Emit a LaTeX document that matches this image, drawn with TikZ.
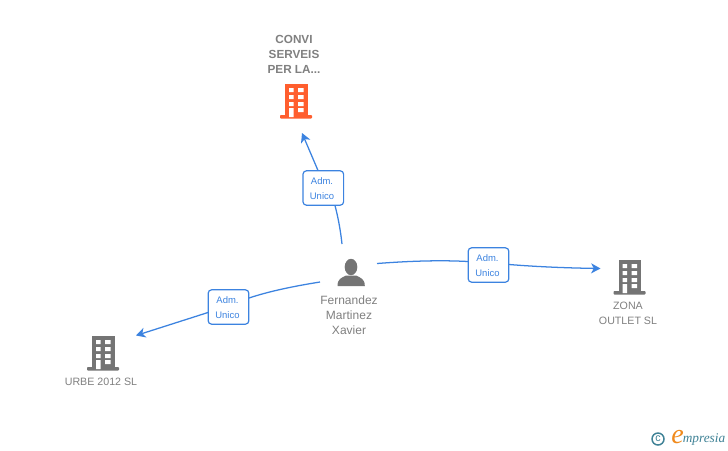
\documentclass[tikz,border=0pt]{standalone}
\usepackage{fontspec}
\setmainfont{Liberation Sans}
\newfontfamily\logofont{Liberation Serif}
\usetikzlibrary{arrows.meta}
\definecolor{linkblue}{HTML}{3C83E0}
\definecolor{txtgray}{HTML}{808080}
\definecolor{icongray}{HTML}{747474}
\definecolor{iconorange}{HTML}{FF5E2E}
\definecolor{logoteal}{HTML}{3F8296}
\definecolor{logoorange}{HTML}{F08A1D}
\tikzset{
  x=0.75pt,y=-0.75pt,
  role/.style={draw=linkblue,line width=0.9pt,fill=white,rounded corners=2.6pt,minimum width=30.5pt,minimum height=25.8pt,inner sep=0pt,text=linkblue,align=center,font=\fontsize{7.1pt}{11.2pt}\selectfont},
  rolelabel/.style={inner sep=0pt,text=linkblue,align=center,font=\fontsize{7.1pt}{11.2pt}\selectfont},
  link/.style={draw=linkblue,line width=0.95pt},
  linkarrow/.style={link,-{Stealth[length=7pt,width=7.5pt,inset=2pt]}},
  company/.style={text=txtgray,align=center,inner sep=0pt,font=\fontsize{8pt}{11.2pt}\selectfont},
  mainco/.style={text=txtgray,align=center,inner sep=0pt,font=\bfseries\fontsize{8.8pt}{11.2pt}\selectfont},
  person/.style={text=txtgray,align=center,inner sep=0pt,font=\fontsize{9pt}{11.2pt}\selectfont},
  pics/tower/.style={code={
    \fill[#1] (-11,-16) rectangle (11.5,15.5);
    \fill[#1,rounded corners=0.6pt] (-16,15) rectangle (16,18.5);
    \fill[white] (-7,-12) rectangle (-2.4,-8) (2,-12) rectangle (7.6,-8)
                 (-7,-5) rectangle (-2.4,-1) (2,-5) rectangle (7.6,-1)
                 (-7,2) rectangle (-2.4,6) (2,2) rectangle (7.6,6)
                 (-7,8) rectangle (-2.4,17) (2,8) rectangle (7.6,12);
  }},
}
\begin{document}
\begin{tikzpicture}
\useasboundingbox (0,0) rectangle (728,450);
\fill[white] (0,0) rectangle (728,450);

% icons
\pic at (296,100) {tower=iconorange};
\pic at (629.5,276) {tower=icongray};
\pic at (103,352) {tower=icongray};
\fill[icongray] (351,267) ellipse (6.3 and 8.2);
\fill[icongray] (337.5,286) .. controls (337.5,279) and (341,278) .. (346,275.5)
  -- (356,275.5) .. controls (361,278) and (364.8,279) .. (364.8,286) -- cycle;

% text nodes
\node[mainco] (convi) at (294,54.5) {CONVI\\SERVEIS\\PER LA...};
\node[person] (fern) at (349,315.5) {Fernandez\\Martinez\\Xavier};
\node[company] (zona) at (628,313) {ZONA\\OUTLET SL};
\node[company] (urbe) at (101,382) {URBE 2012 SL};

% role labels
\node[role] (r1) at (323.3,188) {};
\node[role] (r2) at (488.5,265) {};
\node[role] (r3) at (228.5,307) {};
\node[rolelabel] (r1t) at (322,189) {Adm.\\Unico};
\node[rolelabel] (r2t) at (487.5,266) {Adm.\\Unico};
\node[rolelabel] (r3t) at (227.5,308) {Adm.\\Unico};

% free ends
\coordinate (p1) at (342,244);
\coordinate (p2) at (377,263.5);
\coordinate (p3) at (320,282);
\coordinate (t1) at (302,133);
\coordinate (t2) at (600.5,268.5);
\coordinate (t3) at (136,335.5);
\coordinate (r1in) at (335,205.5);
\coordinate (r1out) at (318,170.5);
\coordinate (r2in) at (468,261.5);
\coordinate (r2out) at (509,264.5);
\coordinate (r3in) at (249,298);
\coordinate (r3out) at (208,312.5);

% connectors
\draw[link] (p1) .. controls (340.5,230) and (338,217) .. (r1in);
\draw[linkarrow] (r1out) -- (t1);
\draw[link] (p2) .. controls (410,261) and (440,260) .. (r2in);
\draw[linkarrow] (r2out) .. controls (540,267) and (570,268) .. (t2);
\draw[link] (p3) .. controls (295,286) and (270,291) .. (r3in);
\draw[linkarrow] (r3out) -- (t3);

% logo
\draw[logoteal,line width=1.1pt] (658,439) circle (6);
\node[inner sep=0pt,text=logoteal,font=\fontsize{8pt}{8pt}\selectfont] (copy) at (658,438.5) {c};
\node[inner sep=0pt,text=logoorange,font=\logofont\itshape\fontsize{21pt}{21pt}\selectfont] (elogo) at (677.5,437) {e};
\node[inner sep=0pt,anchor=west,text=logoteal,font=\logofont\itshape\fontsize{10pt}{10pt}\selectfont] (mlogo) at (682.5,439) {mpresia};
\end{tikzpicture}
\end{document}
